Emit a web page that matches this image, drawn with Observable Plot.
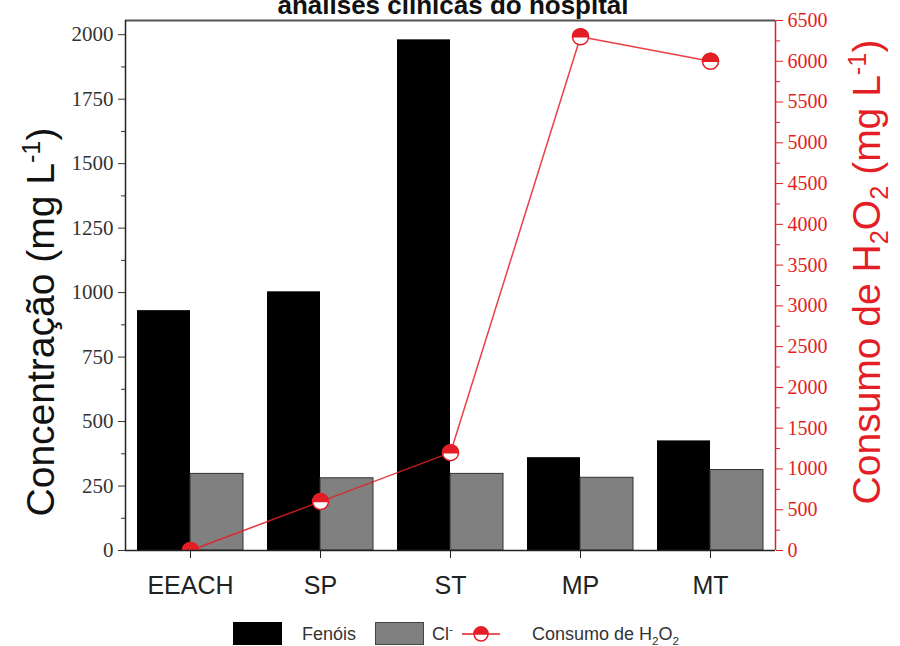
<!DOCTYPE html>
<html>
<head>
<meta charset="utf-8">
<script src="https://cdn.jsdelivr.net/npm/d3@7"></script>
<script src="https://cdn.jsdelivr.net/npm/@observablehq/plot@0.6"></script>
<style>
  html, body { margin: 0; padding: 0; background: #fff; }
  #wrap { position: relative; width: 900px; height: 646px; overflow: hidden; font-family: "Liberation Sans", Arial, sans-serif; }
  #title { position: absolute; left: 0; width: 900px; top: -8px; text-align: center; font-weight: bold; font-size: 26px; line-height: 26px; color: #111; padding-left: 6px; box-sizing: border-box; }
  #chart { position: absolute; left: 0; top: 0; }
  .ylab { position: absolute; white-space: nowrap; font-size: 39px; line-height: 39px; transform: translate(-50%, -50%) rotate(-90deg); }
  .ylab sub, .ylab sup { font-size: 65%; line-height: 0; }
  #legend { position: absolute; left: 0; top: 610px; width: 900px; height: 36px; }
  #legend .sw { position: absolute; top: 12px; width: 49px; height: 23px; box-sizing: border-box; }
  #legend .lt { position: absolute; top: 14px; font-size: 18px; line-height: 20px; color: #333; white-space: nowrap; }
  #legend sub, #legend sup { font-size: 65%; line-height: 0; }
  #legend svg { position: absolute; top: 13px; }
</style>
</head>
<body>
<div id="wrap">
  <div id="chart"></div>
  <div id="title">análises clínicas do hospital</div>
  <div class="ylab" style="left:40px; top:322px; color:#111;">Concentração (mg L<sup>-1</sup>)</div>
  <div class="ylab" style="left:866px; top:272px; color:#e41e26;">Consumo de H<sub>2</sub>O<sub>2</sub> (mg L<sup>-1</sup>)</div>
  <div id="legend">
    <span class="sw" style="left:233px; background:#000;"></span>
    <span class="lt" style="left:302px;">Fenóis</span>
    <span class="sw" style="left:375px; background:#808080; border:1px solid #444;"></span>
    <span class="lt" style="left:432px;">Cl<sup>-</sup></span>
    <svg id="legmark" style="left:460px;" width="44" height="22"></svg>
    <span class="lt" style="left:532px;">Consumo de H<sub>2</sub>O<sub>2</sub></span>
  </div>
</div>
<script>
// Sampling sites
const categories = ["EEACH", "SP", "ST", "MP", "MT"];
// Concentrations (mg L-1)
const fenois = [930, 1003, 1980, 360, 425];
const cloreto = [297, 280, 297, 282, 312];
// H2O2 consumption (mg L-1), right axis
const h2o2 = [0, 600, 1200, 6300, 6000];
// Axis ticks
const leftTicks = d3.range(0, 2001, 250);
const leftMinor = d3.range(125, 2001, 250);
const rightTicks = d3.range(0, 6501, 500);
const rightMinor = d3.range(250, 6501, 500);

const RED = "#e41e26";
const yMax = 2055;          // top of the left (concentration) axis
const rightMax = 6500;      // top of the right (H2O2) axis
const k = yMax / rightMax;  // H2O2 units -> left axis units

const rows = categories.map((c, i) => ({
  c, i, fenois: fenois[i], cl: cloreto[i], h: h2o2[i]
}));

// Marker with the upper half filled
const halfTop = {
  draw(context, size) {
    const r = Math.sqrt(size / Math.PI);
    context.moveTo(-r, 0);
    context.arc(0, 0, r, Math.PI, 2 * Math.PI);
    context.closePath();
  }
};

const cx = d => d.i + 0.5;
const cy = d => d.h * k;

const chart = Plot.plot({
  width: 900,
  height: 610,
  marginLeft: 125,
  marginRight: 125,
  marginTop: 20,
  marginBottom: 60,
  x: { domain: [0, categories.length], axis: null },
  y: { domain: [0, yMax], axis: null },
  marks: [
    Plot.rectY(rows, { x1: d => d.i, x2: d => d.i + 0.5, y: "fenois", fill: "#000", insetLeft: 12 }),
    Plot.rectY(rows, { x1: d => d.i + 0.5, x2: d => d.i + 1, y: "cl", fill: "#808080", stroke: "#333", strokeWidth: 1, insetRight: 12 }),
    Plot.line(rows, { x: cx, y: cy, stroke: RED, strokeWidth: 1.5, strokeOpacity: 0.85 }),
    Plot.dot(rows, { x: cx, y: cy, r: 8, fill: "#fff", stroke: RED, strokeWidth: 1.5, clip: true }),
    Plot.dot(rows, { x: cx, y: cy, r: 8, symbol: halfTop, fill: RED, stroke: RED, strokeWidth: 1.5, clip: true }),
    Plot.ruleY([yMax], { stroke: "#555", strokeWidth: 2 }),
    Plot.ruleY([0], { stroke: "#222", strokeWidth: 1.5 }),
    Plot.ruleX([0], { stroke: "#222", strokeWidth: 1.5 }),
    Plot.ruleX([categories.length], { stroke: RED, strokeWidth: 1.5 }),
    Plot.axisY({ ticks: leftTicks, tickFormat: d => String(d), tickSize: 7, tickPadding: 5, fontSize: 21, fontFamily: "Liberation Serif", color: "#333", label: null }),
    Plot.axisY({ ticks: leftMinor, tickSize: 4, tickFormat: () => "", color: "#333", label: null }),
    Plot.axisY({ anchor: "right", ticks: rightTicks.map(v => v * k), tickFormat: d => String(Math.round(d / k)), tickSize: 7, tickPadding: 5, fontSize: 20, fontFamily: "Liberation Serif", color: RED, label: null }),
    Plot.axisY({ anchor: "right", ticks: rightMinor.map(v => v * k), tickSize: 4, tickFormat: () => "", color: RED, label: null }),
    Plot.axisX({ ticks: categories.map((c, i) => i + 0.5), tickFormat: d => categories[Math.round(d - 0.5)], tickSize: 8, tickPadding: 18, fontSize: 25, fontFamily: "Liberation Sans", color: "#222", label: null })
  ]
});
document.getElementById("chart").appendChild(chart);

// Legend marker: line with half-filled circle
const lm = d3.select("#legmark");
lm.append("line").attr("x1", 2).attr("x2", 40).attr("y1", 11).attr("y2", 11).attr("stroke", RED).attr("stroke-width", 1.5);
lm.append("circle").attr("cx", 21).attr("cy", 11).attr("r", 7).attr("fill", "#fff").attr("stroke", RED).attr("stroke-width", 1.5);
lm.append("path").attr("d", d3.arc()({ innerRadius: 0, outerRadius: 7, startAngle: -Math.PI / 2, endAngle: Math.PI / 2 })).attr("transform", "translate(21,11)").attr("fill", RED).attr("stroke", RED).attr("stroke-width", 1.5);
</script>
</body>
</html>
